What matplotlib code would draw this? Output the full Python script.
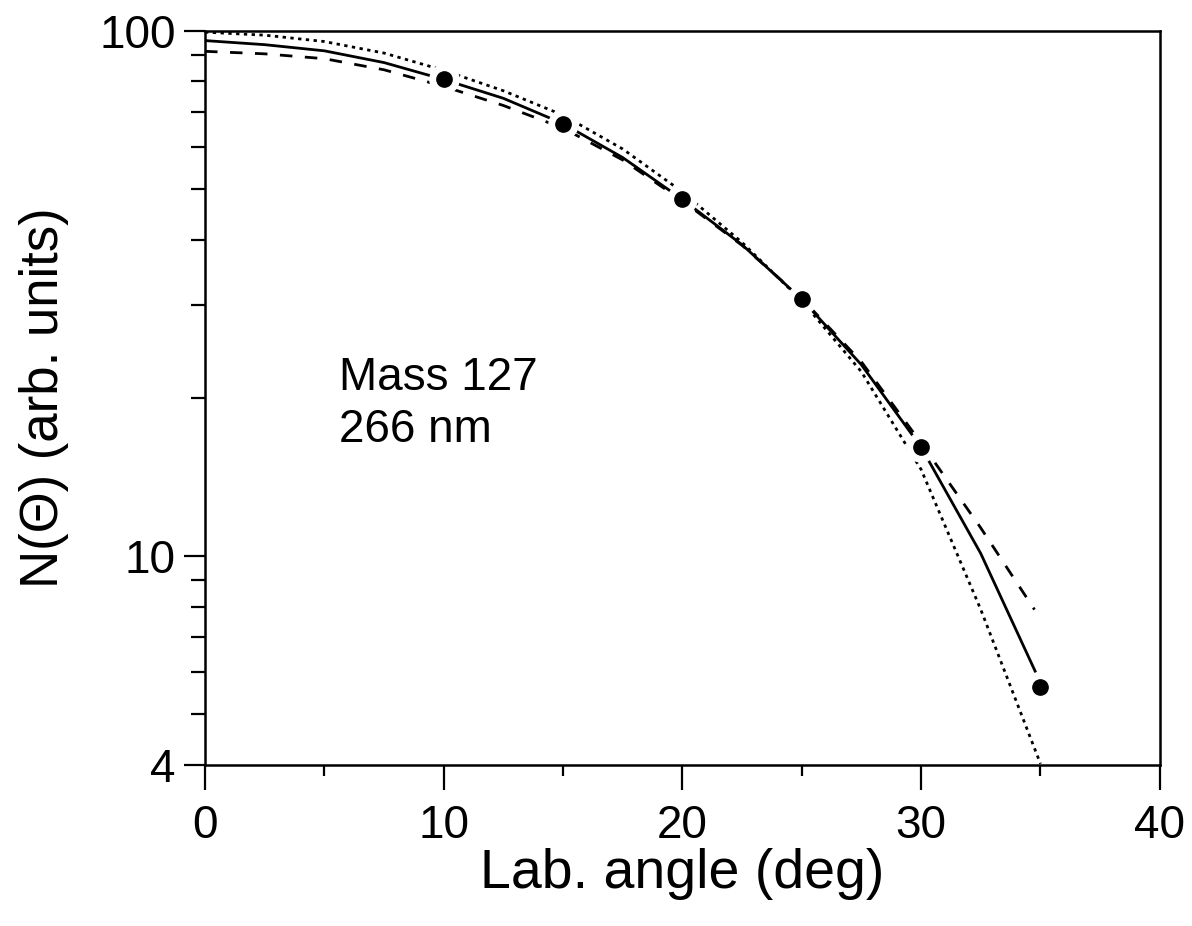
import numpy as np
import matplotlib
matplotlib.use("Agg")
import matplotlib.pyplot as plt
from matplotlib.ticker import FixedLocator, NullFormatter

plt.rcParams["font.family"] = ["Liberation Sans", "DejaVu Sans"]

# measured points
angle_pts = [10, 15, 20, 25, 30, 35]
n_pts = [80.7, 66.5, 47.7, 30.8, 16.1, 5.63]

# fit curves
solid_x = [0, 2.5, 5, 7.5, 10, 12.5, 15, 17.5, 20, 22.5, 25, 27.5, 30, 32.5, 34.8]
solid_y = [95.7, 94.0, 91.5, 86.9, 80.7, 74.3, 66.5, 57.3, 47.7, 39.1, 30.8, 23.1, 16.1, 10.1, 6.0]

dot_x = [0, 2.5, 5, 7.5, 10, 12.5, 15, 17.5, 20, 22.5, 25, 27.5, 30, 32.5, 35]
dot_y = [99.3, 98.0, 95.3, 90.6, 84.0, 76.8, 69.0, 59.5, 49.3, 39.5, 30.6, 22.4, 14.6, 7.9, 4.02]

dash_x = [0, 2.5, 5, 7.5, 10, 12.5, 15, 17.5, 20, 22.5, 25, 27.5, 30, 32.5, 34.75]
dash_y = [91.3, 90.3, 88.4, 84.2, 78.3, 72.0, 65.2, 56.7, 47.4, 39.0, 30.9, 23.4, 16.4, 11.3, 7.9]

label_lines = ["Mass 127", "266 nm"]

fig = plt.figure(figsize=(11.92, 9.26), dpi=100)
ax = fig.add_axes([0.172, 0.174, 0.801, 0.793])

ax.plot(solid_x, solid_y, color="black", lw=2.0, solid_capstyle="butt", zorder=2)
ax.plot(dot_x, dot_y, color="black", lw=2.0, dashes=(1.2, 1.6), zorder=2)
ax.plot(dash_x, dash_y, color="black", lw=2.0, dashes=(4.5, 4.5), zorder=2)

# white halo then black dot
ax.plot(angle_pts, n_pts, "o", ms=21, color="white", mec="white", zorder=3, clip_on=False)
ax.plot(angle_pts, n_pts, "o", ms=11, color="black", mec="black", zorder=4, clip_on=False)

ax.set_yscale("log")
ax.set_xlim(0, 40)
ax.set_ylim(4, 100)

ax.xaxis.set_major_locator(FixedLocator([0, 10, 20, 30, 40]))
ax.xaxis.set_minor_locator(FixedLocator([5, 15, 25, 35]))
ax.yaxis.set_major_locator(FixedLocator([4, 10, 100]))
ax.yaxis.set_minor_locator(FixedLocator([5, 6, 7, 8, 9, 20, 30, 40, 50, 60, 70, 80, 90]))
ax.yaxis.set_minor_formatter(NullFormatter())
ax.set_yticklabels(["4", "10", "100"])
ax.set_xticklabels(["0", "10", "20", "30", "40"])

ax.tick_params(axis="x", which="major", direction="out", length=18, width=1.6, labelsize=33, pad=10)
ax.tick_params(axis="x", which="minor", direction="out", length=8, width=1.6)
ax.tick_params(axis="y", which="major", direction="out", length=15, width=1.6, labelsize=33, pad=6)
ax.tick_params(axis="y", which="minor", direction="out", length=10, width=1.6)

for s in ax.spines.values():
    s.set_linewidth(1.8)

ax.set_xlabel("Lab. angle (deg)", fontsize=40, labelpad=0)
ax.set_ylabel("N(\u0398) (arb. units)", fontsize=38, labelpad=22)

ax.text(5.6, 20.7, label_lines[0], fontsize=33, va="baseline", ha="left")
ax.text(5.6, 16.5, label_lines[1], fontsize=33, va="baseline", ha="left")

fig.savefig("out.png", dpi=100)
